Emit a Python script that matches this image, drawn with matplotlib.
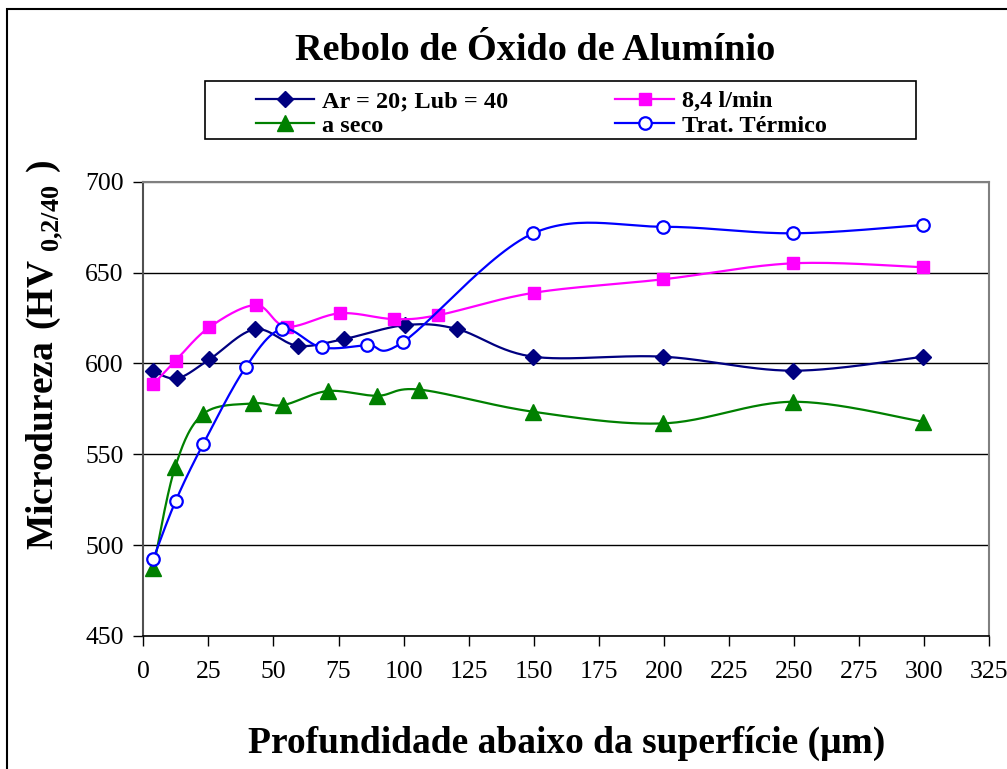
import numpy as np
import matplotlib
matplotlib.use("Agg")
import matplotlib.pyplot as plt
from matplotlib.lines import Line2D
from matplotlib.patches import Rectangle

plt.rcParams['font.family'] = ['Liberation Serif', 'DejaVu Serif']
plt.rcParams['mathtext.fontset'] = 'custom'
plt.rcParams['mathtext.rm'] = 'Liberation Serif'
plt.rcParams['mathtext.bf'] = 'Liberation Serif:bold'

# profundidade (um) e microdureza HV 0,2/40 para cada condicao
x_lub = [3.8, 13.1, 25.4, 42.9, 59.3, 77.1, 100.7, 120.6, 149.8, 199.8, 249.7, 299.7]
hv_lub = [595.8, 591.8, 602.2, 618.8, 609.7, 613.4, 621.1, 618.9, 603.7, 603.7, 596.0, 603.7]

x_vazao = [3.8, 12.4, 25.4, 43.2, 55.1, 75.6, 96.3, 113.4, 150.1, 199.8, 249.7, 299.7]
hv_vazao = [588.5, 601.5, 619.9, 632.1, 620.2, 627.6, 624.4, 626.6, 638.9, 646.3, 655.1, 652.9]

x_seco = [3.8, 12.2, 23.1, 42.3, 53.8, 70.8, 89.9, 106.1, 149.8, 199.8, 249.7, 299.7]
hv_seco = [487.2, 542.8, 572.3, 578.0, 577.1, 584.8, 582.2, 585.6, 573.4, 567.0, 578.9, 567.9]

x_trat = [3.8, 12.4, 23.1, 39.3, 53.2, 68.5, 86.1, 99.9, 149.8, 199.8, 249.7, 299.7]
hv_trat = [492.3, 524.2, 555.9, 597.8, 618.9, 608.8, 610.1, 611.9, 671.6, 675.2, 671.6, 676.2]

labels = ['Ar = 20; Lub = 40', '8,4 l/min', 'a seco', 'Trat. Térmico']


def smooth(x, y, n=30):
    # curva suavizada (Bezier cubica, estilo Excel) passando pelos pontos
    p = np.column_stack([x, y]).astype(float)
    segs = []
    for i in range(len(p) - 1):
        p0 = p[i - 1] if i > 0 else p[i]
        p1, p2 = p[i], p[i + 1]
        p3 = p[i + 2] if i + 2 < len(p) else p[i + 1]
        c1 = p1 + (p2 - p0) / 6
        c2 = p2 - (p3 - p1) / 6
        t = np.linspace(0, 1, n)[:, None]
        seg = (1 - t) ** 3 * p1 + 3 * (1 - t) ** 2 * t * c1 + 3 * (1 - t) * t ** 2 * c2 + t ** 3 * p2
        segs.append(seg if i == 0 else seg[1:])
    c = np.vstack(segs)
    return c[:, 0], c[:, 1]


W, H = 1007, 769
fig = plt.figure(figsize=(W / 100, H / 100), dpi=100)
ax = fig.add_axes([143.3 / W, 1 - 636 / H, (989.3 - 143.3) / W, (636 - 181.7) / H])

series = [
    (x_lub, hv_lub, '#000080', dict(marker='D', ms=8.5, mfc='#000080', mec='#000080')),
    (x_vazao, hv_vazao, '#FF00FF', dict(marker='s', ms=9, mfc='#FF00FF', mec='#FF00FF')),
    (x_seco, hv_seco, '#008000', dict(marker='^', ms=12, mfc='#008000', mec='#008000')),
    (x_trat, hv_trat, '#0000FF', dict(marker='o', ms=9, mfc='white', mec='#0000FF', mew=1.6)),
]

handles = []
for k, (xs, ys, col, mk) in enumerate(series):
    sx, sy = smooth(xs, ys)
    ax.plot(sx, sy, color=col, lw=1.6, zorder=3 + k, clip_on=False)
    ax.plot(xs, ys, ls='none', zorder=3 + k, clip_on=False, **mk)
    handles.append(Line2D([], [], color=col, lw=1.6, **mk))

ax.set_xlim(0, 325)
ax.set_ylim(450, 700)
ax.set_xticks(np.arange(0, 326, 25))
ax.set_yticks(np.arange(450, 701, 50))
ax.tick_params(axis='both', direction='out', length=7, width=1, color='black', labelsize=18.5)
ax.tick_params(axis='x', pad=11)
ax.tick_params(axis='y', pad=7)

ax.yaxis.grid(True, color='black', lw=1.0)
ax.get_ygridlines()[-1].set_color('#808080')
ax.set_axisbelow(True)
for side in ['top', 'right']:
    ax.spines[side].set_color('#808080')
    ax.spines[side].set_linewidth(1.5)
ax.spines['left'].set_color('#505050')
ax.spines['left'].set_linewidth(1.5)
ax.spines['bottom'].set_color('black')
ax.spines['bottom'].set_linewidth(1.2)

fig.text(535 / W, 1 - 60 / H, 'Rebolo de Óxido de Alumínio', ha='center', va='baseline',
         fontsize=27.5, fontweight='bold')
fig.text(567 / W, 1 - 753 / H, 'Profundidade abaixo da superfície (μm)', ha='center', va='baseline',
         fontsize=27, fontweight='bold')
fig.text(45 / W, 1 - 355 / H, r'$\mathbf{Microdureza\ (HV}_{\mathbf{\ 0{,}2/40}}\mathbf{\ )}$',
         rotation=90, ha='center', va='center', fontsize=27)

# caixa da legenda e moldura externa
fig.patches.append(Rectangle((205 / W, 1 - 139 / H), (916 - 205) / W, 58 / H, transform=fig.transFigure,
                             fill=False, ec='black', lw=1.2))
fig.patches.append(Rectangle((7 / W, -0.05), 1.1, 1 - 9 / H + 0.05, transform=fig.transFigure,
                             fill=False, ec='black', lw=1.5))

order = [0, 2, 1, 3]
fig.legend([handles[i] for i in order], [labels[i] for i in order], ncol=2, loc='center left',
           bbox_to_anchor=(256 / W, 1 - 113.5 / H), frameon=False, borderpad=0, borderaxespad=0,
           handlelength=2.4, handletextpad=0.33, columnspacing=4.4, labelspacing=0.1,
           numpoints=1, prop={'weight': 'bold', 'size': 17.5})

fig.savefig('out.png', dpi=100)
